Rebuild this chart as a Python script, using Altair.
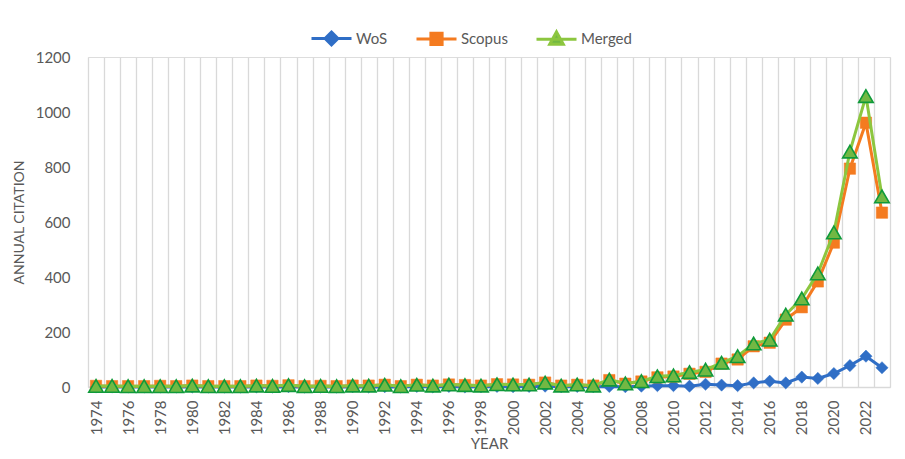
import altair as alt
import pandas as pd

years = [str(y) for y in range(1974, 2024)]

wos = [0, 0, 0, 0, 0, 0, 0, 0, 0, 0,
       0, 0, 1, 0, 0, 0, 1, 0, 1, 0,
       2, 0, 2, 0, 1, 2, 1, 2, 3, 1,
       2, 1, 2, 1, 3, 5, 5, 3, 10, 7,
       5, 15, 21, 15, 36, 31, 49, 78, 112, 70]

scopus = [4, 3, 3, 3, 4, 3, 5, 3, 3, 3,
          5, 4, 6, 3, 4, 3, 5, 5, 8, 3,
          8, 5, 9, 7, 5, 10, 9, 8, 16, 5,
          8, 5, 25, 12, 20, 35, 38, 48, 55, 85,
          100, 148, 161, 245, 290, 384, 525, 794, 961, 634]

merged = [4, 4, 3, 3, 3, 3, 5, 3, 3, 3,
          5, 4, 7, 3, 4, 3, 5, 5, 8, 3,
          8, 5, 9, 7, 5, 10, 9, 9, 16, 5,
          9, 5, 27, 13, 21, 39, 42, 54, 63, 88,
          112, 158, 172, 263, 322, 413, 562, 856, 1058, 693]

series_names = ["WoS", "Scopus", "Merged"]
line_colors = ["#2F6EC6", "#F47B20", "#8CC63F"]
marker_fill = ["#2F6EC6", "#F47B20", "#72B843"]
marker_stroke = ["#2F6EC6", "#F47B20", "#0F9A3A"]
shapes = ["diamond", "square", "triangle-up"]
sizes = [150, 130, 210]
legend_paths = [
    "M-1,0L1,0M0,-0.32L0.32,0L0,0.32L-0.32,0Z",
    "M-1,0L1,0M-0.28,-0.28L0.28,-0.28L0.28,0.28L-0.28,0.28Z",
    "M-1,0L1,0M0,-0.36L0.34,0.26L-0.34,0.26Z",
]

rows = []
for name, vals in zip(series_names, [wos, scopus, merged]):
    for y, v in zip(years, vals):
        rows.append({"Year": y, "Series": name, "Value": v})
df = pd.DataFrame(rows)

font = "Lato"
grey = "#595959"

xenc = alt.X("Year:O", title="YEAR",
             scale=alt.Scale(type="band", paddingInner=0, paddingOuter=0),
             axis=alt.Axis(labelAngle=270, labelAlign="right", labelBaseline="middle",
                           labelExpr="datum.value % 2 == 0 ? datum.label : ''",
                           labelPadding=13, ticks=False, grid=True, tickBand="extent",
                           gridColor="#D9D9D9", gridWidth=1.3, domainColor="#D9D9D9",
                           domainWidth=1.3, labelFontSize=15, labelColor=grey,
                           labelFont=font, titleFont=font, titleFontSize=15,
                           titleColor=grey, titleFontWeight="normal", titlePadding=2))
yenc = alt.Y("Value:Q", title="ANNUAL CITATION",
             scale=alt.Scale(domain=[0, 1200], nice=False),
             axis=alt.Axis(values=[0, 200, 400, 600, 800, 1000, 1200], grid=False,
                           format="d", domain=False, ticks=False, labelPadding=18,
                           labelFontSize=15, labelColor=grey, labelFont=font,
                           titleFont=font, titleFontSize=14, titleColor=grey,
                           titleFontWeight="normal", titlePadding=9))

legend = alt.Legend(title=None, orient="none", legendX=222, legendY=-40,
                    direction="horizontal", symbolSize=1600, symbolStrokeWidth=3,
                    labelFontSize=15, labelColor=grey, labelFont=font,
                    labelOffset=3, columnPadding=22, symbolOpacity=1)

legend_layer = alt.Chart(df).mark_point(filled=False, opacity=0).encode(
    x=xenc, y=yenc,
    color=alt.Color("Series:N", sort=series_names,
                    scale=alt.Scale(domain=series_names, range=line_colors), legend=legend),
    fill=alt.Fill("Series:N", sort=series_names,
                  scale=alt.Scale(domain=series_names, range=marker_fill), legend=legend),
    shape=alt.Shape("Series:N", sort=series_names,
                    scale=alt.Scale(domain=series_names, range=legend_paths), legend=legend),
)

layers = [legend_layer]
for i, name in enumerate(series_names):
    base = alt.Chart(df).transform_filter(alt.datum.Series == name)
    layers.append(base.mark_line(strokeWidth=3, color=line_colors[i]).encode(x=xenc, y=yenc))
    layers.append(base.mark_point(shape=shapes[i], size=sizes[i], filled=True,
                                  fill=marker_fill[i], stroke=marker_stroke[i],
                                  strokeWidth=1.6 if i == 2 else 0.5, opacity=1)
                  .encode(x=xenc, y=yenc))

chart = alt.layer(*layers).properties(
    width=802, height=330,
    autosize=alt.AutoSizeParams(type="none"),
    padding={"left": 80, "top": 49, "right": 7, "bottom": 64},
).configure_view(stroke=None).configure(background="white")

chart.save("out.html", embed_options={"renderer": "svg", "actions": False})
